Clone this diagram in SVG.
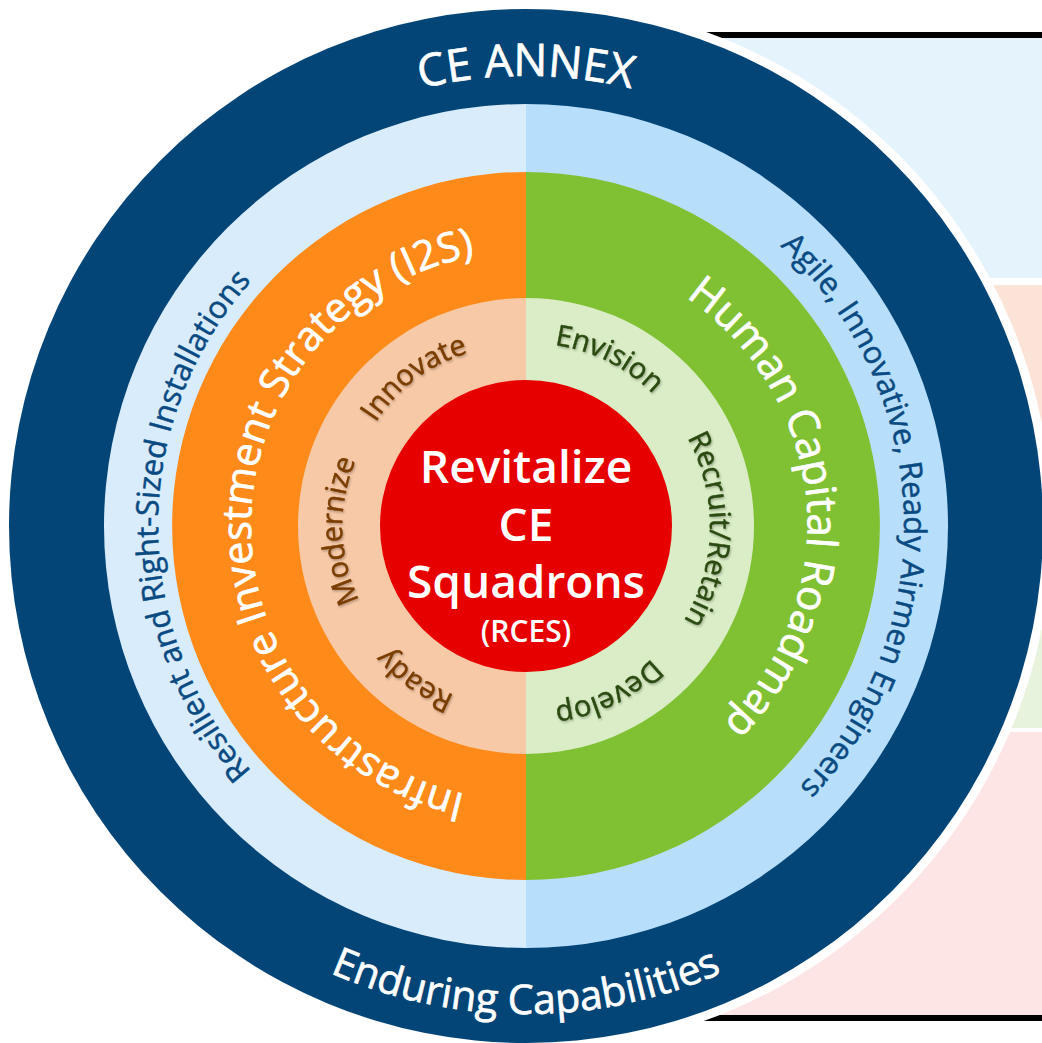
<svg xmlns="http://www.w3.org/2000/svg" xmlns:xlink="http://www.w3.org/1999/xlink" width="1042" height="1043" viewBox="0 0 1042 1043">
<style>
  text { font-family: "Open Sans", "Noto Sans", "DejaVu Sans", sans-serif; stroke-width: 0.7px; stroke-linejoin: round; }
  .big { font-size: 41px; fill: #ffffff; stroke: #ffffff; }
  .outer { font-size: 31px; fill: #0a4a82; stroke: #0a4a82; stroke-width: 0.5px; }
  .band { fill: #ffffff; stroke: #ffffff; }
  .inP { font-size: 29px; fill: #7a3d05; stroke: #7a3d05; stroke-width: 0.5px; filter: url(#sh); }
  .inG { font-size: 29px; fill: #2c4a12; stroke: #2c4a12; stroke-width: 0.5px; filter: url(#sh); }
  .core { font-size: 46px; font-weight: 600; fill: #ffffff; stroke: none; text-anchor: middle; }
</style>
<defs>
  <filter id="sh" x="-10%" y="-10%" width="120%" height="120%">
    <feDropShadow dx="1" dy="1.5" stdDeviation="1" flood-color="#000000" flood-opacity="0.28"/>
  </filter>
  <path id="pAnnex" d="M526,976 A450,450 0 0 1 526,76 A450,450 0 0 1 526,976"/>
  <path id="pEndur" d="M526,38 A488,488 0 0 0 526,1014 A488,488 0 0 0 526,38"/>
  <path id="pResil" d="M894,526 A368,368 0 0 1 158,526 A368,368 0 0 1 894,526"/>
  <path id="pAgile" d="M148.2,539.2 A378,378 0 0 1 903.8,512.8 A378,378 0 0 1 148.2,539.2"/>
  <path id="pI2S" d="M800.96,530.8 A275,275 0 0 1 251.04,521.2 A275,275 0 0 1 800.96,530.8"/>
  <path id="pHCR" d="M245.1,550.6 A282,282 0 0 1 806.9,501.4 A282,282 0 0 1 245.1,550.6"/>
  <path id="pInno" d="M636.7,672.9 A184,184 0 0 1 415.3,379.1 A184,184 0 0 1 636.7,672.9"/>
  <path id="pMode" d="M709.9,521.2 A184,184 0 0 1 342.1,530.8 A184,184 0 0 1 709.9,521.2"/>
  <path id="pReady" d="M633.4,376.6 A184,184 0 0 1 418.6,675.4 A184,184 0 0 1 633.4,376.6"/>
  <path id="pEnv" d="M444.2,690.8 A184,184 0 0 1 607.8,361.2 A184,184 0 0 1 444.2,690.8"/>
  <path id="pRec" d="M342.04,522.15 A184,184 0 0 1 709.96,529.85 A184,184 0 0 1 342.04,522.15"/>
  <path id="pDev" d="M444.5,361.1 A184,184 0 0 1 607.5,690.9 A184,184 0 0 1 444.5,361.1"/>
</defs>

<g id="side-panels">
  <rect x="600" y="38" width="442" height="240" fill="#e5f3fd"/>
  <rect x="600" y="285" width="442" height="315" fill="#fce3d7"/>
  <rect x="600" y="600" width="442" height="128" fill="#e7f3dc"/>
  <rect x="600" y="732" width="442" height="283" fill="#fde5e5"/>
  <rect x="600" y="32" width="442" height="6" fill="#000000"/>
  <rect x="600" y="1015" width="442" height="6" fill="#000000"/>
</g>

<g id="ring-annex">
  <circle cx="526" cy="526" r="526" fill="#ffffff"/>
  <circle cx="526" cy="526" r="517" fill="#034577"/>
  <text class="band" font-size="45"><textPath href="#pAnnex" xlink:href="#pAnnex" startOffset="50%" text-anchor="middle">CE ANNEX</textPath></text>
  <text class="band" font-size="41"><textPath href="#pEndur" xlink:href="#pEndur" startOffset="50%" text-anchor="middle">Enduring Capabilities</textPath></text>
</g>

<g id="ring-outcomes">
  <path d="M526,104 A422,422 0 0 0 526,948 Z" fill="#d8ecfc"/>
  <path d="M526,104 A422,422 0 0 1 526,948 Z" fill="#b7defb"/>
  <text class="outer"><textPath href="#pResil" xlink:href="#pResil" startOffset="50%" text-anchor="middle">Resilient and Right-Sized Installations</textPath></text>
  <text class="outer"><textPath href="#pAgile" xlink:href="#pAgile" startOffset="50%" text-anchor="middle">Agile, Innovative, Ready Airmen Engineers</textPath></text>
</g>

<g id="ring-strategies">
  <path d="M526,172 A354,354 0 0 0 526,880 Z" fill="#fd8a19"/>
  <path d="M526,172 A354,354 0 0 1 526,880 Z" fill="#80c133"/>
  <text class="big"><textPath href="#pI2S" xlink:href="#pI2S" startOffset="50%" text-anchor="middle">Infrastructure Investment Strategy (I2S)</textPath></text>
  <text class="big" style="font-size:42px"><textPath href="#pHCR" xlink:href="#pHCR" startOffset="50%" text-anchor="middle">Human Capital Roadmap</textPath></text>
</g>

<g id="ring-lines-of-effort">
  <path d="M526,298 A228,228 0 0 0 526,754 Z" fill="#f7c9a7"/>
  <path d="M526,298 A228,228 0 0 1 526,754 Z" fill="#daedc6"/>
  <text class="inP"><textPath href="#pInno" xlink:href="#pInno" startOffset="50%" text-anchor="middle">Innovate</textPath></text>
  <text class="inP"><textPath href="#pMode" xlink:href="#pMode" startOffset="50%" text-anchor="middle">Modernize</textPath></text>
  <text class="inP"><textPath href="#pReady" xlink:href="#pReady" startOffset="50%" text-anchor="middle">Ready</textPath></text>
  <text class="inG"><textPath href="#pEnv" xlink:href="#pEnv" startOffset="50%" text-anchor="middle">Envision</textPath></text>
  <text class="inG"><textPath href="#pRec" xlink:href="#pRec" startOffset="50%" text-anchor="middle">Recruit/Retain</textPath></text>
  <text class="inG"><textPath href="#pDev" xlink:href="#pDev" startOffset="50%" text-anchor="middle">Develop</textPath></text>
</g>

<g id="core-rces">
  <circle cx="526" cy="526" r="146" fill="#e60000"/>
  <text class="core" x="526" y="483">Revitalize</text>
  <text class="core" x="526" y="541">CE</text>
  <text class="core" x="526" y="598">Squadrons</text>
  <text class="core" x="526" y="642" style="font-size:30px">(RCES)</text>
</g>
</svg>
